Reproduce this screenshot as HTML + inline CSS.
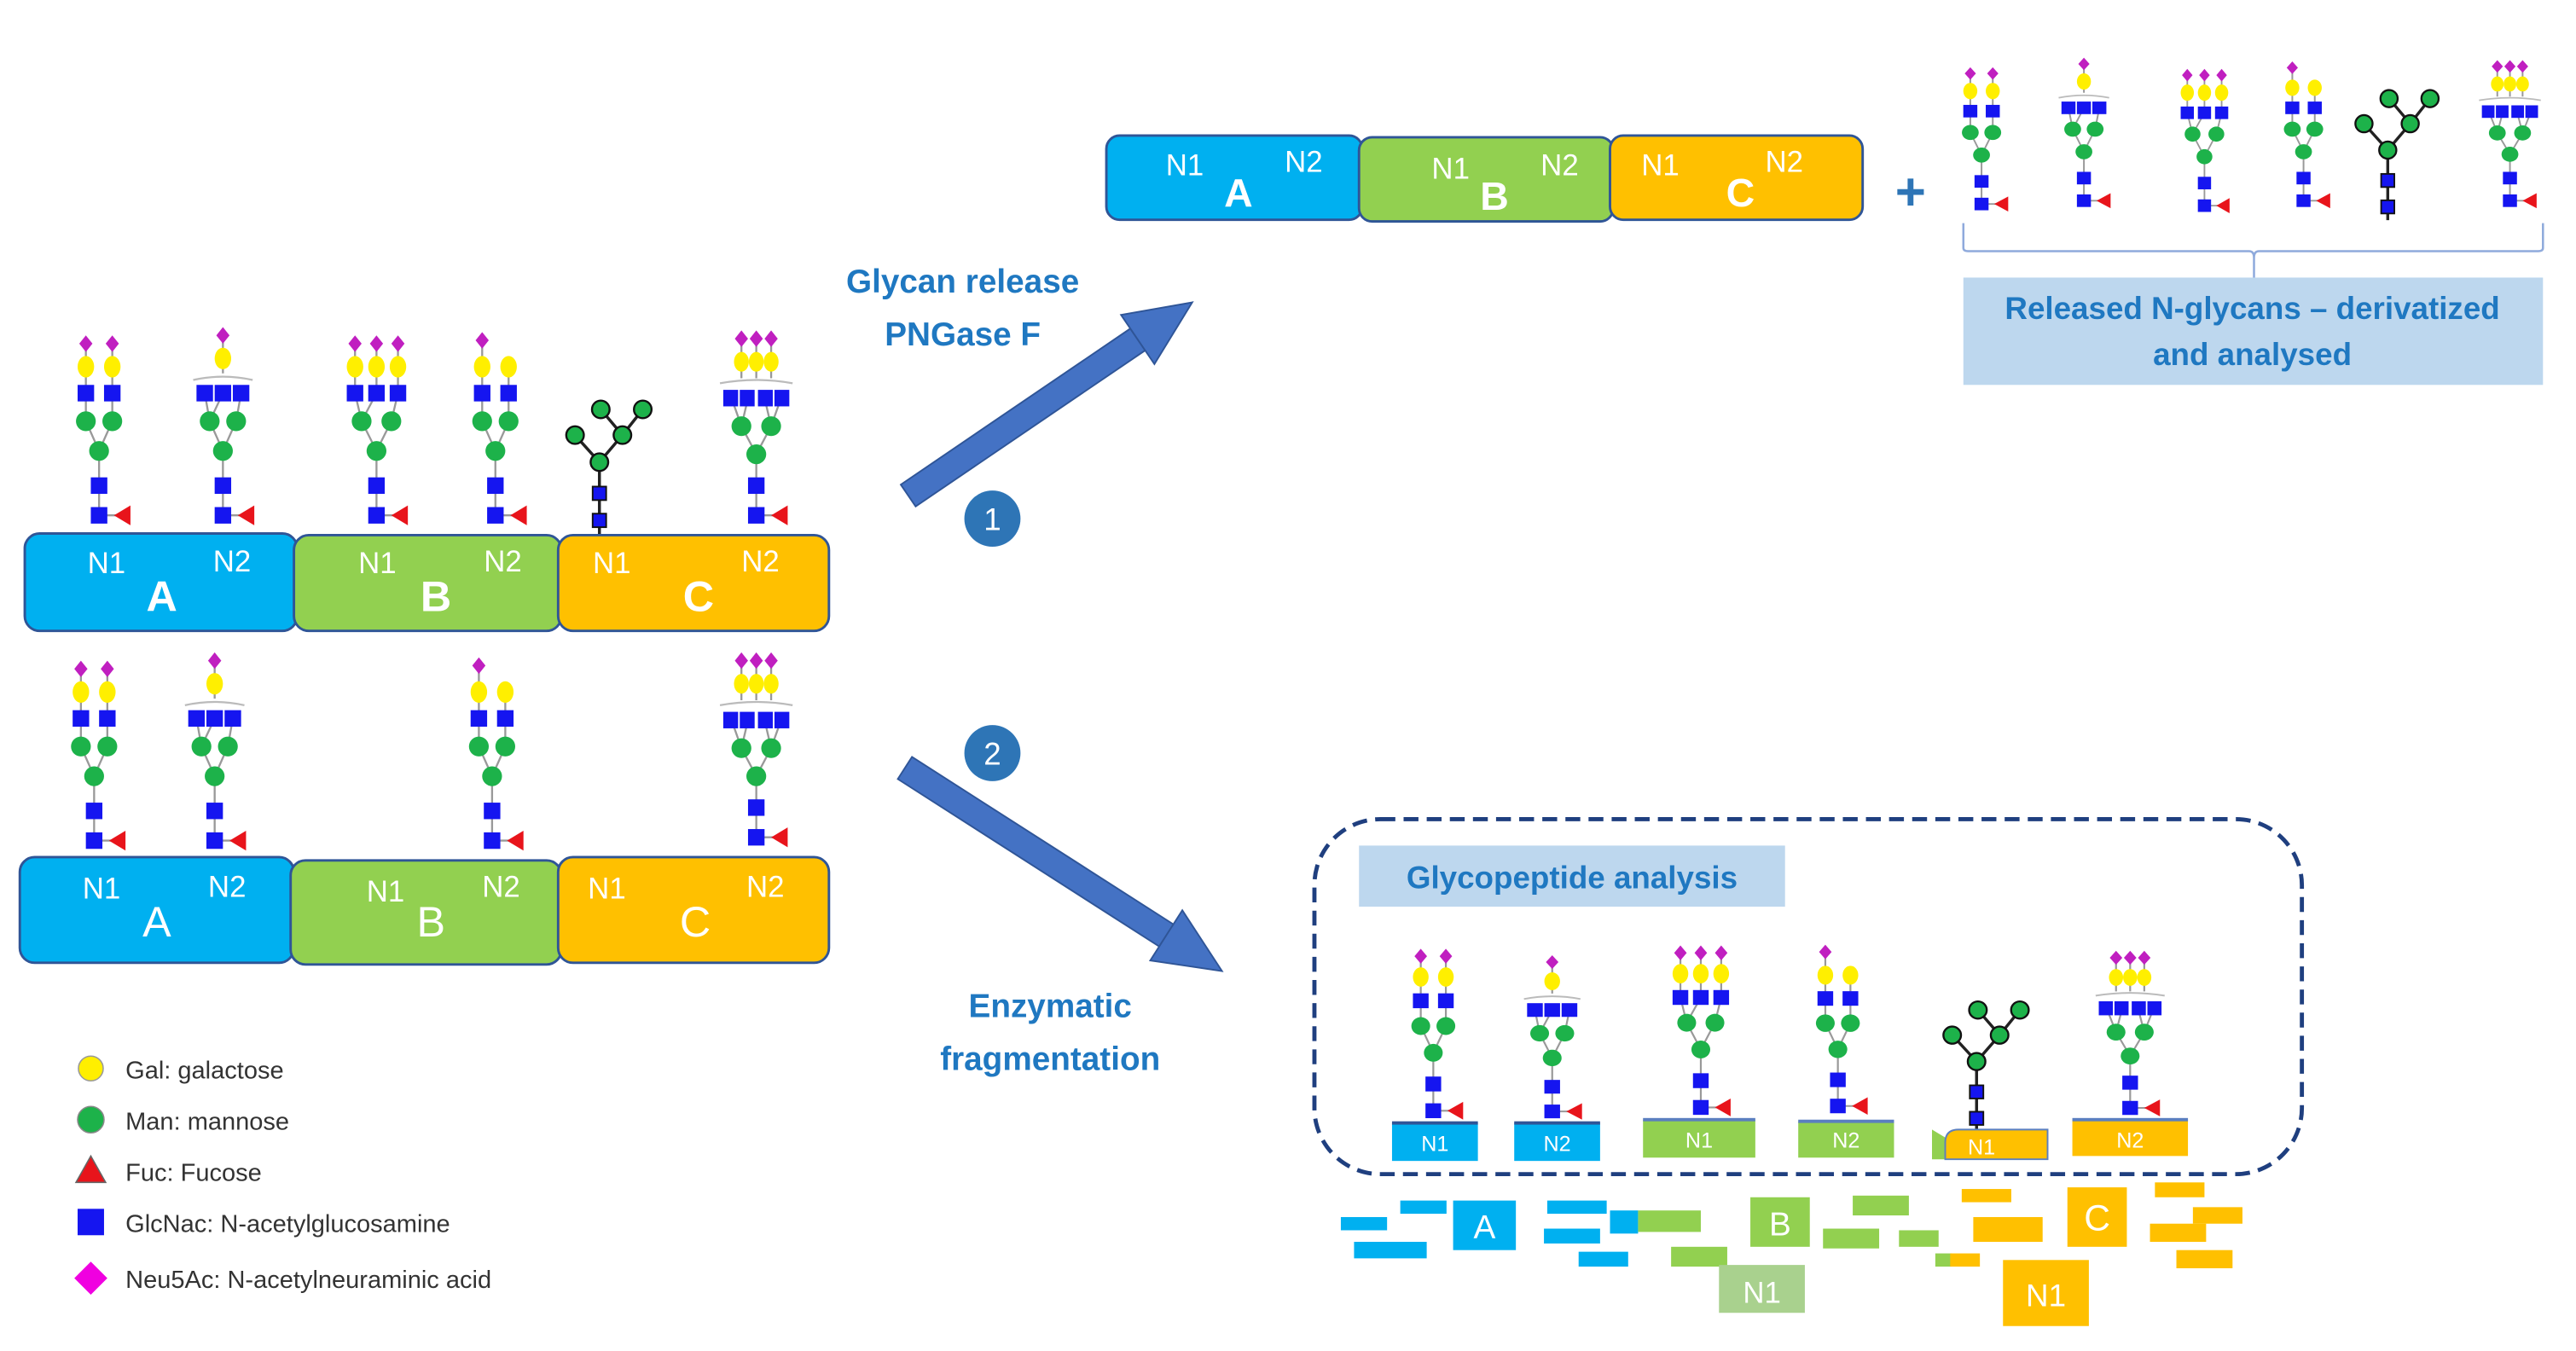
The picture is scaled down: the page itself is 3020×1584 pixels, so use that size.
<!DOCTYPE html>
<html><head><meta charset="utf-8"><style>
html,body{margin:0;padding:0;background:#fff;}
svg{display:block;}
text{font-family:"Liberation Sans",sans-serif;}
</style></head><body>
<svg width="3020" height="1584" viewBox="0 0 1560 818" xmlns="http://www.w3.org/2000/svg">
<defs>
<g id="fuc"><path d="M0,-6 H11" stroke="#999" stroke-width="1.2"/><polygon points="9,-6 19,-12 19,0" fill="#e8141b"/></g>
<g id="g1">
 <path d="M0,-6 V-45 L-8,-63 V-110 M0,-45 L8,-63 V-110" stroke="#999" stroke-width="1.2" fill="none"/>
 <use href="#fuc"/>
 <rect x="-5" y="-11" width="10" height="10" fill="#1515f0"/><rect x="-5" y="-29" width="10" height="10" fill="#1515f0"/>
 <circle cx="0" cy="-45" r="6" fill="#1db24a"/><circle cx="-8" cy="-63" r="6" fill="#1db24a"/><circle cx="8" cy="-63" r="6" fill="#1db24a"/>
 <rect x="-13" y="-85" width="10" height="10" fill="#1515f0"/><rect x="3" y="-85" width="10" height="10" fill="#1515f0"/>
 <ellipse cx="-8" cy="-96" rx="5" ry="6.5" fill="#ffef00"/><ellipse cx="8" cy="-96" rx="5" ry="6.5" fill="#ffef00"/>
 <polygon points="-8,-115 -4,-110 -8,-105 -12,-110" fill="#c01fc0"/><polygon points="8,-115 12,-110 8,-105 4,-110" fill="#c01fc0"/>
</g>
<g id="g4">
 <path d="M0,-6 V-45 L-8,-63 V-110 M0,-45 L8,-63 V-96" stroke="#999" stroke-width="1.2" fill="none"/>
 <use href="#fuc"/>
 <rect x="-5" y="-11" width="10" height="10" fill="#1515f0"/><rect x="-5" y="-29" width="10" height="10" fill="#1515f0"/>
 <circle cx="0" cy="-45" r="6" fill="#1db24a"/><circle cx="-8" cy="-63" r="6" fill="#1db24a"/><circle cx="8" cy="-63" r="6" fill="#1db24a"/>
 <rect x="-13" y="-85" width="10" height="10" fill="#1515f0"/><rect x="3" y="-85" width="10" height="10" fill="#1515f0"/>
 <ellipse cx="-8" cy="-96" rx="5" ry="6.5" fill="#ffef00"/><ellipse cx="8" cy="-96" rx="5" ry="6.5" fill="#ffef00"/>
 <polygon points="-8,-117 -4,-112 -8,-107 -12,-112" fill="#c01fc0"/>
</g>
<g id="g2">
 <path d="M0,-6 V-45 L-8,-63 L-11,-80 M-8,-63 L0,-80 M0,-45 L8,-63 L11,-80 M0,-92 V-115" stroke="#999" stroke-width="1.2" fill="none"/>
 <path d="M-18,-88 Q0,-92 18,-88" stroke="#bbb" stroke-width="1.2" fill="none"/>
 <use href="#fuc"/>
 <rect x="-5" y="-11" width="10" height="10" fill="#1515f0"/><rect x="-5" y="-29" width="10" height="10" fill="#1515f0"/>
 <circle cx="0" cy="-45" r="6" fill="#1db24a"/><circle cx="-8" cy="-63" r="6" fill="#1db24a"/><circle cx="8" cy="-63" r="6" fill="#1db24a"/>
 <rect x="-16" y="-85" width="10" height="10" fill="#1515f0"/><rect x="-5" y="-85" width="10" height="10" fill="#1515f0"/><rect x="6" y="-85" width="10" height="10" fill="#1515f0"/>
 <ellipse cx="0" cy="-101" rx="5" ry="6.5" fill="#ffef00"/>
 <polygon points="0,-120 4,-115 0,-110 -4,-115" fill="#c01fc0"/>
</g>
<g id="g3">
 <path d="M0,-6 V-45 L-9,-63 L-13,-80 V-111 M-9,-63 L0,-80 V-111 M0,-45 L9,-63 L13,-80 V-111" stroke="#999" stroke-width="1.2" fill="none"/>
 <use href="#fuc"/>
 <rect x="-5" y="-11" width="10" height="10" fill="#1515f0"/><rect x="-5" y="-29" width="10" height="10" fill="#1515f0"/>
 <circle cx="0" cy="-45" r="6" fill="#1db24a"/><circle cx="-9" cy="-63" r="6" fill="#1db24a"/><circle cx="9" cy="-63" r="6" fill="#1db24a"/>
 <rect x="-18" y="-85" width="10" height="10" fill="#1515f0"/><rect x="-5" y="-85" width="10" height="10" fill="#1515f0"/><rect x="8" y="-85" width="10" height="10" fill="#1515f0"/>
 <ellipse cx="-13" cy="-96" rx="5" ry="6.5" fill="#ffef00"/><ellipse cx="0" cy="-96" rx="5" ry="6.5" fill="#ffef00"/><ellipse cx="13" cy="-96" rx="5" ry="6.5" fill="#ffef00"/>
 <polygon points="-13,-115 -9,-110 -13,-105 -17,-110" fill="#c01fc0"/><polygon points="0,-115 4,-110 0,-105 -4,-110" fill="#c01fc0"/><polygon points="13,-115 17,-110 13,-105 9,-110" fill="#c01fc0"/>
</g>
<g id="g5">
 <path d="M0,-6 V-43 L-9,-60 L-15,-77 M-9,-60 L-5,-77 M0,-43 L9,-60 L15,-77 M9,-60 L5,-77 M-9,-89 V-113 M0,-89 V-113 M9,-89 V-113" stroke="#999" stroke-width="1.2" fill="none"/>
 <path d="M-22,-86 Q0,-90 22,-86" stroke="#bbb" stroke-width="1.2" fill="none"/>
 <use href="#fuc"/>
 <rect x="-5" y="-11" width="10" height="10" fill="#1515f0"/><rect x="-5" y="-29" width="10" height="10" fill="#1515f0"/>
 <circle cx="0" cy="-43" r="6" fill="#1db24a"/><circle cx="-9" cy="-60" r="6" fill="#1db24a"/><circle cx="9" cy="-60" r="6" fill="#1db24a"/>
 <rect x="-20" y="-82" width="9" height="10" fill="#1515f0"/><rect x="-10" y="-82" width="9" height="10" fill="#1515f0"/><rect x="1" y="-82" width="9" height="10" fill="#1515f0"/><rect x="11" y="-82" width="9" height="10" fill="#1515f0"/>
 <ellipse cx="-9" cy="-99" rx="4.5" ry="6" fill="#ffef00"/><ellipse cx="0" cy="-99" rx="4.5" ry="6" fill="#ffef00"/><ellipse cx="9" cy="-99" rx="4.5" ry="6" fill="#ffef00"/>
 <polygon points="-9,-118 -5,-113 -9,-108 -13,-113" fill="#c01fc0"/><polygon points="0,-118 4,-113 0,-108 -4,-113" fill="#c01fc0"/><polygon points="9,-118 13,-113 9,-108 5,-113" fill="#c01fc0"/>
</g>
<g id="gm">
 <path d="M0,4 V-49 L-18,-69 M0,-49 L17,-69 L1,-88 M17,-69 L32,-88" stroke="#222" stroke-width="2.2" fill="none"/>
 <rect x="-5" y="-11" width="10" height="10" fill="#1515f0" stroke="#111" stroke-width="1.2"/><rect x="-5" y="-31" width="10" height="10" fill="#1515f0" stroke="#111" stroke-width="1.2"/>
 <circle cx="0" cy="-49" r="6.5" fill="#1db24a" stroke="#111" stroke-width="1.5"/><circle cx="-18" cy="-69" r="6.5" fill="#1db24a" stroke="#111" stroke-width="1.5"/><circle cx="17" cy="-69" r="6.5" fill="#1db24a" stroke="#111" stroke-width="1.5"/>
 <circle cx="1" cy="-88" r="6.5" fill="#1db24a" stroke="#111" stroke-width="1.5"/><circle cx="32" cy="-88" r="6.5" fill="#1db24a" stroke="#111" stroke-width="1.5"/>
</g>
</defs>

<use href="#g1" transform="translate(60,318)"/>
<use href="#g2" transform="translate(135,318)"/>
<use href="#g3" transform="translate(228,318)"/>
<use href="#g4" transform="translate(300,318)"/>
<use href="#gm" transform="translate(363,320) scale(0.82)"/>
<use href="#g5" transform="translate(458,318)"/>
<g stroke="#2F5597" stroke-width="1.5">
<rect x="15" y="323" width="165" height="59" rx="9" fill="#00B0F0"/>
<rect x="178" y="324" width="162" height="58" rx="9" fill="#92D050"/>
<rect x="338" y="324" width="164" height="58" rx="9" fill="#FFC000"/>
</g>
<g fill="#fff" font-size="18">
<text x="53" y="347">N1</text><text x="129" y="346">N2</text>
<text x="217" y="347">N1</text><text x="293" y="346">N2</text>
<text x="359" y="347">N1</text><text x="449" y="346">N2</text>
</g>
<g fill="#fff" font-size="26" font-weight="bold" text-anchor="middle">
<text x="98" y="370">A</text><text x="264" y="370">B</text><text x="423" y="370">C</text>
</g>

<use href="#g1" transform="translate(57,515)"/>
<use href="#g2" transform="translate(130,515)"/>
<use href="#g4" transform="translate(298,515)"/>
<use href="#g5" transform="translate(458,513)"/>
<g stroke="#2F5597" stroke-width="1.5">
<rect x="12" y="519" width="166" height="64" rx="9" fill="#00B0F0"/>
<rect x="176" y="521" width="164" height="63" rx="9" fill="#92D050"/>
<rect x="338" y="519" width="164" height="64" rx="9" fill="#FFC000"/>
</g>
<g fill="#fff" font-size="18">
<text x="50" y="544">N1</text><text x="126" y="543">N2</text>
<text x="222" y="546">N1</text><text x="292" y="543">N2</text>
<text x="356" y="544">N1</text><text x="452" y="543">N2</text>
</g>
<g fill="#fff" font-size="26" text-anchor="middle">
<text x="95" y="567">A</text><text x="261" y="567">B</text><text x="421" y="567">C</text>
</g>

<circle cx="55" cy="647" r="7.5" fill="#ffef00" stroke="#999" stroke-width="0.8"/>
<circle cx="55" cy="678" r="8" fill="#1db24a" stroke="#888" stroke-width="0.8"/>
<polygon points="55,700 64,716 46,716" fill="#e8141b" stroke="#666" stroke-width="0.8"/>
<rect x="47" y="732" width="16" height="16" fill="#1515f0"/>
<polygon points="55,764 65,774 55,784 45,774" fill="#f000e0"/>
<g font-size="15" fill="#333">
<text x="76" y="653">Gal: galactose</text>
<text x="76" y="684">Man: mannose</text>
<text x="76" y="715">Fuc: Fucose</text>
<text x="76" y="746">GlcNac: N-acetylglucosamine</text>
<text x="76" y="780">Neu5Ac: N-acetylneuraminic acid</text>
</g>

<g fill="#4472C4" stroke="#2F5597" stroke-width="1">
<polygon points="545.5,293.4 554.5,306.6 693.5,212.1 684.5,198.9"/>
<polygon points="722,183 699.1,220.4 678.9,190.6"/>
<polygon points="543.7,471.7 552.3,458.3 710.6,559.7 702,573.1"/>
<polygon points="740,588 696.6,581.6 716,551.2"/>
</g>
<circle cx="601" cy="314" r="17" fill="#2E75B6"/>
<text x="601" y="321" font-size="19" fill="#fff" text-anchor="middle">1</text>
<circle cx="601" cy="456" r="17" fill="#2E75B6"/>
<text x="601" y="463" font-size="19" fill="#fff" text-anchor="middle">2</text>
<g fill="#1F78C1" font-size="20" font-weight="bold" text-anchor="middle">
<text x="583" y="177">Glycan release</text>
<text x="583" y="209">PNGase F</text>
<text x="636" y="616">Enzymatic</text>
<text x="636" y="648">fragmentation</text>
</g>

<g stroke="#2F5597" stroke-width="1.5">
<rect x="670" y="82" width="155" height="51" rx="8" fill="#00B0F0"/>
<rect x="823" y="83" width="154" height="51" rx="8" fill="#92D050"/>
<rect x="975" y="82" width="153" height="51" rx="8" fill="#FFC000"/>
</g>
<g fill="#fff" font-size="18">
<text x="706" y="106">N1</text><text x="778" y="104">N2</text>
<text x="867" y="108">N1</text><text x="933" y="106">N2</text>
<text x="994" y="106">N1</text><text x="1069" y="104">N2</text>
</g>
<g fill="#fff" font-size="24" font-weight="bold" text-anchor="middle">
<text x="750" y="125">A</text><text x="905" y="127">B</text><text x="1054" y="125">C</text>
</g>
<text x="1157" y="127" font-size="32" font-weight="bold" fill="#2E75B6" text-anchor="middle">+</text>

<use href="#g1" transform="translate(1200,128) scale(0.85,0.76)"/>
<use href="#g2" transform="translate(1262,126) scale(0.85,0.76)"/>
<use href="#g3" transform="translate(1335,129) scale(0.8,0.76)"/>
<use href="#g4" transform="translate(1395,126) scale(0.85,0.76)"/>
<use href="#gm" transform="translate(1446,130) scale(0.8,0.8)"/>
<use href="#g5" transform="translate(1520,126) scale(0.85,0.76)"/>
<path d="M1189,135 V150 Q1189,152 1192,152 H1362 Q1365,152 1365,156 V168 M1365,156 Q1365,152 1368,152 H1537 Q1540,152 1540,150 V135" stroke="#8FAADC" stroke-width="1.3" fill="none"/>
<rect x="1189" y="168" width="351" height="65" fill="#BDD7EE"/>
<g fill="#1F78C1" font-size="19" font-weight="bold" text-anchor="middle">
<text x="1364" y="193">Released N-glycans – derivatized</text>
<text x="1364" y="221">and analysed</text>
</g>

<rect x="796" y="496" width="598" height="215" rx="40" fill="none" stroke="#1F3F7F" stroke-width="2.5" stroke-dasharray="9,5"/>
<rect x="823" y="512" width="258" height="37" fill="#BDD7EE"/>
<text x="952" y="538" font-size="19" font-weight="bold" fill="#1F78C1" text-anchor="middle">Glycopeptide analysis</text>

<use href="#g1" transform="translate(868,678) scale(0.95,0.9)"/>
<use href="#g2" transform="translate(940,678) scale(0.95,0.83)"/>
<use href="#g3" transform="translate(1030,676) scale(0.95,0.9)"/>
<use href="#g4" transform="translate(1113,675) scale(0.95,0.88)"/>
<use href="#gm" transform="translate(1197,682) scale(0.82,0.8)"/>
<use href="#g5" transform="translate(1290,676) scale(0.95,0.85)"/>

<g>
<rect x="843" y="680" width="52" height="23" fill="#00B0F0"/><rect x="843" y="679" width="52" height="2" fill="#2F5597"/>
<rect x="917" y="680" width="52" height="23" fill="#00B0F0"/><rect x="917" y="679" width="52" height="2" fill="#2F5597"/>
<rect x="995" y="678" width="68" height="23" fill="#92D050"/><rect x="995" y="677" width="68" height="2" fill="#5B7FBF"/>
<rect x="1089" y="679" width="58" height="22" fill="#92D050"/><rect x="1089" y="678" width="58" height="2" fill="#5B7FBF"/>
<polygon points="1170,684 1180,690 1180,702 1170,702" fill="#92D050"/>
<path d="M1178,702 V692 Q1178,684 1186,684 H1240 V702 Z" fill="#FFC000" stroke="#5B7FBF" stroke-width="1"/>
<rect x="1255" y="678" width="70" height="22" fill="#FFC000"/><rect x="1255" y="677" width="70" height="2" fill="#5B7FBF"/>
</g>
<g fill="#fff" font-size="13" text-anchor="middle">
<text x="869" y="697">N1</text><text x="943" y="697">N2</text><text x="1029" y="695">N1</text><text x="1118" y="695">N2</text><text x="1200" y="699">N1</text><text x="1290" y="695">N2</text>
</g>

<g fill="#00B0F0">
<rect x="812" y="737" width="28" height="8"/><rect x="848" y="727" width="28" height="8"/><rect x="820" y="752" width="44" height="10"/>
<rect x="880" y="727" width="38" height="30"/><rect x="937" y="727" width="36" height="8"/><rect x="935" y="744" width="34" height="9"/><rect x="956" y="758" width="30" height="9"/><rect x="975" y="733" width="17" height="14"/>
</g>
<g fill="#92D050">
<rect x="992" y="733" width="38" height="13"/><rect x="1060" y="725" width="36" height="30"/><rect x="1122" y="724" width="34" height="12"/><rect x="1104" y="744" width="34" height="12"/><rect x="1150" y="745" width="24" height="10"/><rect x="1012" y="755" width="34" height="12"/>
<rect x="1172" y="759" width="10" height="8"/>
</g>
<rect x="1041" y="766" width="52" height="29" fill="#A9D18E"/>
<g fill="#FFC000">
<rect x="1188" y="720" width="30" height="8"/><rect x="1195" y="737" width="42" height="15"/><rect x="1252" y="719" width="36" height="36"/><rect x="1305" y="716" width="30" height="9"/><rect x="1328" y="731" width="30" height="10"/><rect x="1302" y="741" width="34" height="11"/><rect x="1318" y="757" width="34" height="11"/><rect x="1181" y="759" width="18" height="8"/>
<rect x="1213" y="763" width="52" height="40"/>
</g>
<g fill="#fff" text-anchor="middle">
<text x="899" y="750" font-size="20">A</text>
<text x="1078" y="748" font-size="20">B</text>
<text x="1270" y="745" font-size="22">C</text>
<text x="1067" y="789" font-size="18">N1</text>
<text x="1239" y="791" font-size="19">N1</text>
</g>
</svg>
</body></html>
